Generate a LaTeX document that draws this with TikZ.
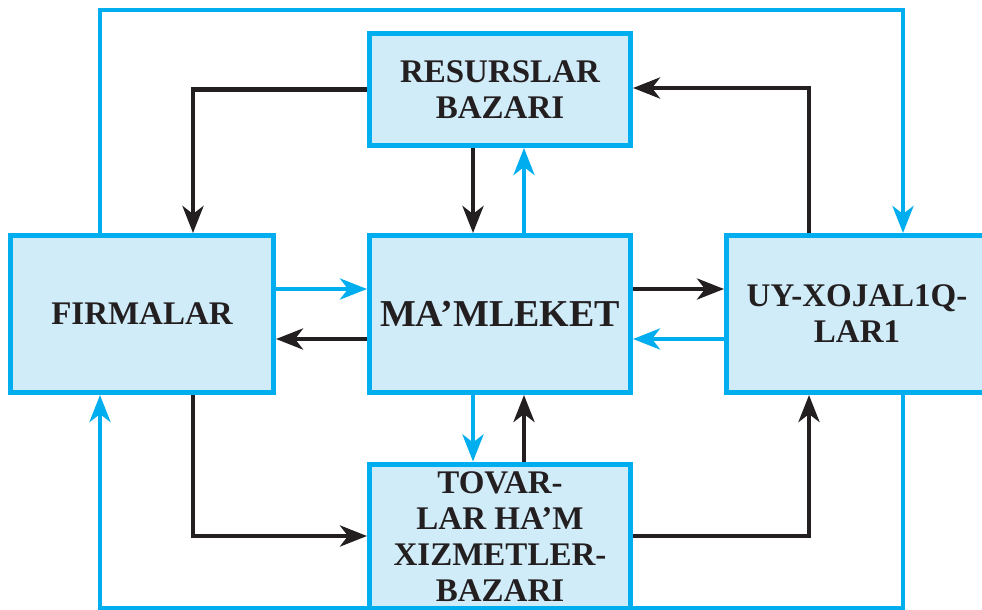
\documentclass[tikz,border=0pt]{standalone}
\usepackage{fontspec}
\setmainfont{Liberation Serif}
\usetikzlibrary{arrows.meta,calc}
\definecolor{cy}{HTML}{00AEEF}
\definecolor{lcy}{HTML}{D0ECF9}
\definecolor{ink}{HTML}{231F20}
\begin{document}
\begin{tikzpicture}[x=1pt,y=-1pt,
  box/.style={draw=cy, fill=lcy, line width=5pt, minimum width=261pt, minimum height=157pt, inner sep=0pt, align=center, font=\bfseries\fontsize{33}{36}\selectfont, text=ink},
  lbl/.style={inner sep=0pt, align=center, font=\bfseries\fontsize{33}{36}\selectfont, text=ink},
  tip/.style={-{Stealth[length=27pt,width=21pt,inset=8pt]}},
  blk/.style={draw=ink, line width=4.6pt, tip},
  bl/.style={draw=cy, line width=4.4pt, tip}]
\clip (0,0) rectangle (982,610);
% boxes
\node[box, minimum height=112pt] (res) at (500,89.5) {RESURSLAR\\BAZARI};
\node[box, minimum width=263pt] (fir) at (142,314) {FIRMALAR};
\node[box, font=\bfseries\fontsize{38}{40}\selectfont] (mam) at (500,314) {MA’MLEKET};
\node[box] (uy) at (857,314) {UY-XOJAL1Q-\\LAR1};
\node[box, minimum height=166pt] (tov) at (500,547) {};
\node[lbl] (tovt) at (500,537) {TOVAR-\\LAR HA’M\\XIZMETLER-\\BAZARI};
% helper coordinates for the outer loops
\coordinate (toprow) at (500,10);
\coordinate (botrow) at (500,608);
% outer blue loops
\draw[bl] ([xshift=-42pt]fir.north) |- (toprow) -| ([xshift=46pt]uy.north);
\draw[bl] ([xshift=46pt]uy.south) |- (botrow) -| ([xshift=-42pt]fir.south);
% black corner connectors
\draw[blk] (res.west) -| ([xshift=51pt]fir.north);
\draw[blk] ([xshift=-48pt]uy.north) |- ([yshift=1.5pt]res.east);
\draw[blk] ([xshift=51pt]fir.south) |- ([yshift=11pt]tov.west);
\draw[blk] ([yshift=11pt]tov.east) -| ([xshift=-48pt]uy.south);
% vertical pairs
\draw[blk] ([xshift=-27pt]res.south) -- ([xshift=-27pt]mam.north);
\draw[bl] ([xshift=24pt]mam.north) -- ([xshift=24pt]res.south);
\draw[bl] ([xshift=-27pt]mam.south) -- ([xshift=-27pt]tov.north);
\draw[blk] ([xshift=24pt]tov.north) -- ([xshift=24pt]mam.south);
% horizontal pairs
\draw[bl] ([yshift=25pt]fir.east) -- ([yshift=25pt]mam.west);
\draw[blk] ([yshift=-25pt]mam.west) -- ([yshift=-25pt]fir.east);
\draw[blk] ([yshift=25pt]mam.east) -- ([yshift=25pt]uy.west);
\draw[bl] ([yshift=-25pt]uy.west) -- ([yshift=-25pt]mam.east);
\end{tikzpicture}
\end{document}
